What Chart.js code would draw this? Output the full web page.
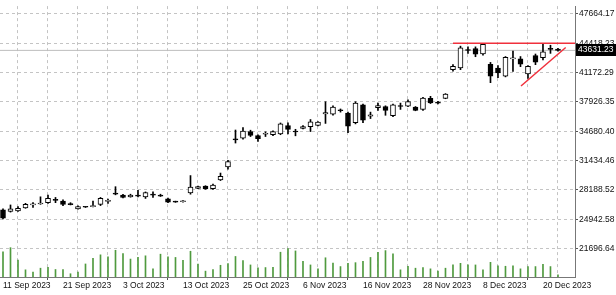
<!DOCTYPE html>
<html>
<head>
<meta charset="utf-8">
<script src="https://cdn.jsdelivr.net/npm/chart.js@4/dist/chart.umd.min.js"></script>
<style>
  html, body { margin: 0; padding: 0; background: #fff; }
  #wrap { width: 616px; height: 295px; }
</style>
</head>
<body>
<div id="wrap"><canvas id="priceChart" width="616" height="295"></canvas></div>
<script>
// --- Data (daily bars, weekdays) ---
const dates = [
  "11 Sep 2023","12 Sep 2023","13 Sep 2023","14 Sep 2023","15 Sep 2023","18 Sep 2023","19 Sep 2023","20 Sep 2023","21 Sep 2023","22 Sep 2023",
  "25 Sep 2023","26 Sep 2023","27 Sep 2023","28 Sep 2023","29 Sep 2023","2 Oct 2023","3 Oct 2023","4 Oct 2023","5 Oct 2023","6 Oct 2023",
  "9 Oct 2023","10 Oct 2023","11 Oct 2023","12 Oct 2023","13 Oct 2023","16 Oct 2023","17 Oct 2023","18 Oct 2023","19 Oct 2023","20 Oct 2023",
  "23 Oct 2023","24 Oct 2023","25 Oct 2023","26 Oct 2023","27 Oct 2023","30 Oct 2023","31 Oct 2023","1 Nov 2023","2 Nov 2023","3 Nov 2023",
  "6 Nov 2023","7 Nov 2023","8 Nov 2023","9 Nov 2023","10 Nov 2023","13 Nov 2023","14 Nov 2023","15 Nov 2023","16 Nov 2023","17 Nov 2023",
  "20 Nov 2023","21 Nov 2023","22 Nov 2023","23 Nov 2023","24 Nov 2023","27 Nov 2023","28 Nov 2023","29 Nov 2023","30 Nov 2023","1 Dec 2023",
  "4 Dec 2023","5 Dec 2023","6 Dec 2023","7 Dec 2023","8 Dec 2023","11 Dec 2023","12 Dec 2023","13 Dec 2023","14 Dec 2023","15 Dec 2023",
  "18 Dec 2023","19 Dec 2023","20 Dec 2023","21 Dec 2023","22 Dec 2023"
];
const opens = [
  25990,25810,25880,26200,26530,26640,26780,27070,26960,26640,
  26090,26320,26350,26600,26930,27790,27610,27430,27570,27430,
  27720,27610,27200,26900,26880,27860,28370,28620,28330,29310,
  30750,33850,33920,34640,34200,34350,34300,34400,35300,34700,
  35000,35200,35330,36600,36560,37000,36700,35620,37600,36350,
  37300,37420,36400,37480,37460,37350,37090,38330,37850,38330,
  41500,41700,43700,43840,43230,42100,41680,40770,42700,42690,
  41030,43050,42830,43800,43770
];
const highs = [
  26090,26530,26340,26710,26780,27430,27610,27360,27110,26780,
  26420,26350,26960,27360,27180,28550,27700,27720,28150,27970,
  27970,27720,27300,26950,27000,29780,28620,28660,28840,30060,
  31470,34820,35080,34800,34300,34620,34720,35600,35620,34900,
  35300,35980,35750,37950,37500,37150,36800,37950,37700,36800,
  37790,37500,37700,37800,38150,37420,38450,38550,38000,38850,
  42050,44100,44020,44020,44390,42300,41960,42950,43550,42950,
  41950,43230,44380,44200,43850
];
const lows = [
  24980,25740,25810,26160,26270,26600,26710,26780,26460,26530,
  26060,26250,26320,26460,26710,27650,27300,27390,27430,27250,
  27360,27470,26780,26820,26850,27720,28330,28260,28260,29230,
  30500,33380,33810,34100,33560,34100,34200,34300,34400,34180,
  34950,34650,35280,35550,36450,36800,34540,35500,35620,36090,
  36980,36450,36300,37100,37400,36950,37000,37750,37700,38280,
  41320,41500,43300,42930,43100,40060,40600,40700,41300,41830,
  40520,42050,42580,43300,43550
];
const closes = [
  25080,26090,26160,26600,26570,26750,27250,27030,26600,26570,
  26350,26280,26420,27250,27000,27720,27360,27610,27500,27900,
  27610,27500,26850,26850,26950,28510,28550,28300,28730,29700,
  31330,33720,34710,34230,33850,34420,34640,35500,34900,34600,
  35200,35730,35690,36750,37350,36950,35250,37790,35900,36500,
  37530,36990,37600,37420,37960,37000,38360,37820,37800,38790,
  41860,43900,43620,43200,44310,40770,41140,42870,42800,42110,
  41860,42330,43480,43740,43631.23
];
const volumes = [
  77,90,52,22,15,27,30,23,23,10,
  15,40,57,68,62,82,72,55,60,65,
  25,70,62,60,51,79,40,18,23,36,
  41,63,50,37,28,29,30,76,87,80,
  48,37,25,59,43,32,42,44,48,60,
  76,81,71,22,33,27,29,25,18,27,
  37,42,37,37,22,45,34,33,34,25,
  32,32,39,32,7
];
const priceTicks = [47664.17,44418.23,41172.29,37926.35,34680.40,31434.46,28188.52,24942.58,21696.64];
const lastPrice = 43631.23;
// drawn lines: [barIndex, price]
const resistanceLine = [[60, 44418.23], [76.27, 44418.23]];
const trendLine = [[69.07, 39690], [75.03, 43950]];

// --- Scale ranges ---
const xMin = -0.4, xMax = 76.27;
const yMin = 18559, yMax = 48530;
const volMax = 831;

const FONT = { family: "'Liberation Sans', Arial, sans-serif", size: 8.5 };

// --- Build datasets ---
const idx = dates.map((d, i) => i);
const wickData = idx.map(i => ({ x: i, y: [lows[i], highs[i]] }));
const bodyData = idx.map(i => ({ x: i, y: [Math.min(opens[i], closes[i]), Math.max(opens[i], closes[i])] }));
const bodyColors = idx.map(i => closes[i] >= opens[i] ? "#ffffff" : "#000000");
const volData = idx.map(i => ({ x: i, y: volumes[i] }));
const toPts = arr => arr.map(p => ({ x: p[0], y: p[1] }));

// price tag on the right axis
const priceTag = {
  id: "priceTag",
  afterDraw(chart) {
    const ys = chart.scales.y;
    const py = ys.getPixelForValue(lastPrice);
    const ctx = chart.ctx;
    ctx.save();
    ctx.fillStyle = "#000";
    ctx.fillRect(ys.left + 1, Math.round(py) - 6, chart.width - ys.left - 1, 12);
    ctx.fillStyle = "#fff";
    ctx.font = FONT.size + "px " + FONT.family;
    ctx.textBaseline = "middle";
    ctx.fillText(lastPrice.toFixed(2), ys.left + 3, Math.round(py));
    ctx.restore();
  }
};

const ctx = document.getElementById("priceChart").getContext("2d");
new Chart(ctx, {
  type: "bar",
  data: {
    datasets: [
      {
        type: "line", data: toPts(resistanceLine), borderColor: "#f0303c", borderWidth: 1.5,
        pointRadius: 0, order: 0
      },
      {
        type: "line", data: toPts(trendLine), borderColor: "#f0303c", borderWidth: 1.5,
        pointRadius: 0, order: 0
      },
      {
        type: "line", data: [{ x: xMin, y: lastPrice }, { x: xMax, y: lastPrice }],
        borderColor: "#bdbdbd", borderWidth: 1, pointRadius: 0, order: 5
      },
      {
        label: "body", data: bodyData, backgroundColor: bodyColors, borderColor: "#000",
        borderWidth: 1, borderSkipped: false, barThickness: 5, minBarLength: 1,
        grouped: false, order: 1
      },
      {
        label: "wick", data: wickData, backgroundColor: "#000", borderWidth: 0,
        barThickness: 1, grouped: false, order: 2
      },
      {
        label: "volume", data: volData, yAxisID: "yv", backgroundColor: "#4f9a3e",
        borderWidth: 0, barThickness: 1, grouped: false, order: 3
      }
    ]
  },
  options: {
    responsive: false,
    animation: false,
    devicePixelRatio: 1,
    layout: { padding: 0 },
    plugins: { legend: { display: false }, tooltip: { enabled: false } },
    scales: {
      x: {
        type: "linear", min: xMin, max: xMax, offset: false,
        afterBuildTicks: s => { const t = []; for (let v = 0; v <= 76; v += 4) t.push({ value: v }); s.ticks = t; },
        afterFit: s => { s.height = 18; s.paddingLeft = 0; s.paddingRight = 0; },
        ticks: {
          autoSkip: false, maxRotation: 0, align: "start", padding: 1,
          color: "#111", font: FONT,
          callback: v => (v % 8 === 0 && dates[v]) ? dates[v] : ""
        },
        grid: {
          color: "#c4c4c4", lineWidth: 1, tickLength: 3, tickBorderDash: [],
          tickColor: c => (c.tick && c.tick.value % 8 === 0 && c.tick.value <= 72) ? "#555" : "rgba(0,0,0,0)"
        },
        border: { display: true, color: "#777", width: 1, dash: [3, 3] }
      },
      y: {
        position: "right", min: yMin, max: yMax,
        afterBuildTicks: s => { s.ticks = priceTicks.map(v => ({ value: v })); },
        afterFit: s => { s.width = 41; },
        ticks: { color: "#111", font: FONT, padding: 1, callback: v => Number(v).toFixed(2) },
        grid: { color: "#c4c4c4", lineWidth: 1, tickLength: 3, tickColor: "#555", tickBorderDash: [] },
        border: { display: true, color: "#777", width: 1, dash: [3, 3] }
      },
      yv: { display: false, min: 0, max: volMax }
    }
  },
  plugins: [priceTag]
});
</script>
</body>
</html>
